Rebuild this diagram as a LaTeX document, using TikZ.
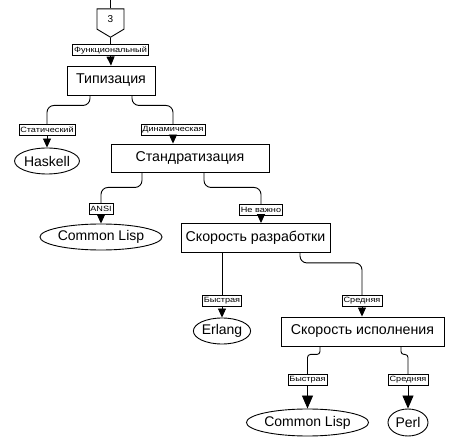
\documentclass[tikz,border=0pt]{standalone}
\usepackage{fontspec}
\setmainfont{Liberation Sans}
\newfontfamily\lblfont[FakeStretch=1.2]{Liberation Sans}
\usetikzlibrary{shapes.geometric,shapes.symbols,arrows.meta}
\begin{document}
\begin{tikzpicture}[x=1pt,y=-1pt,
  box/.style={draw, line width=0.9pt, minimum height=29pt, inner sep=0pt, font=\fontsize{14.2}{16}\selectfont},
  leaf/.style={draw, ellipse, line width=0.9pt, inner sep=0pt, minimum height=26pt, font=\fontsize{14}{16}\selectfont},
  lbl/.style={draw, fill=white, line width=0.6pt, inner xsep=1.5pt, inner ysep=0pt, minimum height=10.5pt, font=\lblfont\fontsize{7.6}{8}\selectfont},
  conn/.style={line width=0.9pt, rounded corners=7pt},
  connsm/.style={line width=0.9pt, rounded corners=3pt},
  arr/.style={line width=0.9pt, -{Triangle[width=8pt,length=9pt]}},
  bigarr/.style={line width=0.9pt, -{Triangle[width=11pt,length=13pt]}}
]
\useasboundingbox (0,0) rectangle (451,444);

% off-page connector
\node[signal, signal to=south, signal pointer angle=118, draw, line width=0.9pt,
      minimum width=27pt, minimum height=22pt, inner sep=0pt,
      font=\fontsize{10}{12}\selectfont] (c3) at (110.5,19) {3};
\coordinate (top) at (110.5,0);

\node[lbl] (lf) at (110.5,50) {Функциональный};
\node[box, minimum width=88pt] (typ) at (111,80.5) {Типизация};

\node[lbl] (ls) at (47,130) {Статический};
\node[leaf, minimum width=60pt] (has) at (47,161) {Haskell};

\node[lbl] (ld) at (173,130) {Динамическая};
\node[box, minimum width=158pt, minimum height=28pt] (std) at (190,158) {Стандратизация};

\node[lbl] (la) at (101,209) {ANSI};
\node[leaf, minimum width=98pt] (cl1) at (101,237) {Common Lisp};

\node[lbl] (ln) at (261,210) {Не важно};
\node[box, minimum width=149pt] (spd) at (255.5,238) {Скорость разработки};

\node[lbl] (lb1) at (222,301) {Быстрая};
\node[leaf, minimum width=54pt] (erl) at (222,331) {Erlang};

\node[lbl] (lm1) at (362,301) {Средняя};
\node[box, minimum width=163pt] (spe) at (362.5,331.5) {Скорость исполнения};

\node[lbl] (lb2) at (307.5,380) {Быстрая};
\node[leaf, minimum width=97pt, minimum height=27pt] (cl2) at (307.5,422.5) {Common Lisp};

\node[lbl] (lm2) at (408,380) {Средняя};
\node[leaf, minimum width=40pt, minimum height=27pt] (perl) at (408,422.5) {Perl};

% connectors
\draw[conn] (top) -- (c3.north);
\draw[conn] (c3.south) -- (lf.north);
\draw[arr] (lf.south) -- (typ.north);

\draw[conn] ([xshift=-21pt]typ.south) -- ++(0,10) -| (ls.north);
\draw[arr] (ls.south) -- (has.north);
\draw[conn] ([xshift=21pt]typ.south) -- ++(0,10) -| (ld.north);
\draw[arr] (ld.south) -- (ld.south |- std.north);

\draw[conn] ([xshift=-48pt]std.south) -- ++(0,15) -| (la.north);
\draw[arr] (la.south) -- (cl1.north);
\draw[conn] ([xshift=14pt]std.south) -- ++(0,15) -| (ln.north);
\draw[arr] (ln.south) -- (ln.south |- spd.north);

\draw[conn] (lb1.north |- spd.south) -- (lb1.north);
\draw[arr] (lb1.south) -- (erl.north);
\draw[conn] ([xshift=44.5pt]spd.south) -- ++(0,10) -| (lm1.north);
\draw[arr] (lm1.south) -- (lm1.south |- spe.north);

\draw[connsm] ([xshift=-42.5pt]spe.south) -- ++(0,8) -| (lb2.north);
\draw[bigarr] (lb2.south) -- (cl2.north);
\draw[connsm] ([xshift=38.5pt]spe.south) -- ++(0,8) -| (lm2.north);
\draw[bigarr] (lm2.south) -- (perl.north);
\end{tikzpicture}
\end{document}
